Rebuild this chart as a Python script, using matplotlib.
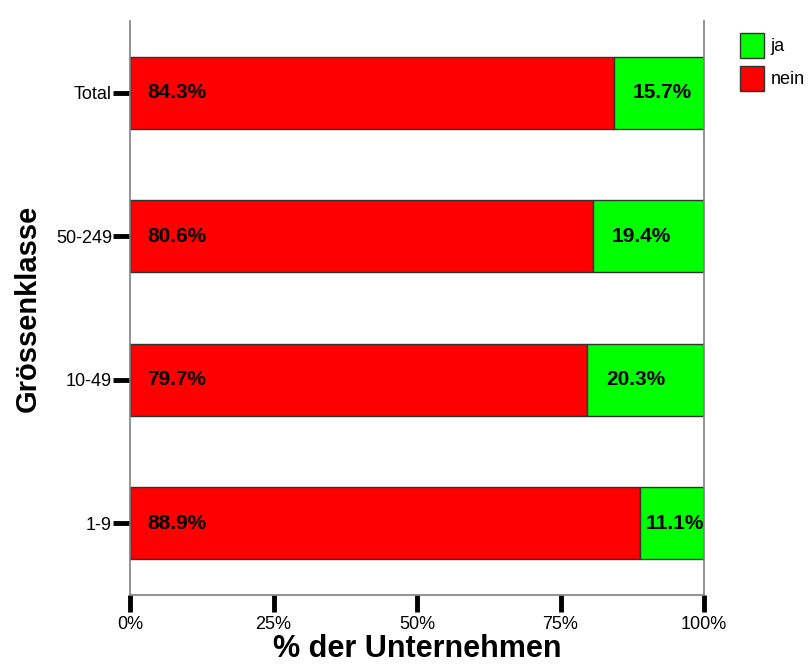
import matplotlib
matplotlib.use('Agg')
import matplotlib.pyplot as plt
import numpy as np

plt.rcParams['font.family'] = ['Liberation Sans', 'DejaVu Sans']

categories = ['1-9', '10-49', '50-249', 'Total']
nein = [88.9, 79.7, 80.6, 84.3]
ja = [11.1, 20.3, 19.4, 15.7]
xticks = [0, 25, 50, 75, 100]
xtick_labels = ['0%', '25%', '50%', '75%', '100%']

red = '#ff0000'
green = '#00ff00'
edge = '#333333'

fig = plt.figure(figsize=(8.09, 6.67), dpi=100)
ax = fig.add_axes([130 / 809, 72 / 667, 574 / 809, 574 / 667])

y = np.arange(len(categories))
ax.barh(y, nein, height=0.5, color=red, edgecolor=edge, linewidth=1,
        label='nein')
ax.barh(y, ja, left=nein, height=0.5, color=green, edgecolor=edge,
        linewidth=1, label='ja')

for i in range(len(categories)):
    ax.text(3, y[i], '%.1f%%' % nein[i], ha='left', va='center',
            fontsize=15, fontweight='bold')
    if ja[i] < 15:
        ax.text(100, y[i], '%.1f%%' % ja[i], ha='right', va='center',
                fontsize=15, fontweight='bold')
    else:
        ax.text(nein[i] + 3.3, y[i], '%.1f%%' % ja[i], ha='left',
                va='center', fontsize=15, fontweight='bold')

ax.set_xlim(0, 100)
ax.set_ylim(-0.5, 3.5)
ax.set_xticks(xticks)
ax.set_xticklabels(xtick_labels, fontsize=13)
ax.set_yticks(y)
ax.set_yticklabels(categories, fontsize=13)
ax.tick_params(axis='both', length=12, width=3.5, color='black')
ax.tick_params(axis='y', pad=1)
ax.tick_params(axis='x', pad=3)

for side in ['left', 'bottom', 'right']:
    ax.spines[side].set_color('#808080')
    ax.spines[side].set_linewidth(1.2)
ax.spines['top'].set_visible(False)

ax.set_xlabel('% der Unternehmen', fontsize=22, fontweight='bold',
              labelpad=1)
ax.set_ylabel('Grössenklasse', fontsize=21, fontweight='bold',
              labelpad=10)

handles, labels = ax.get_legend_handles_labels()
fig.legend(handles[::-1], labels[::-1], loc='upper left',
           bbox_to_anchor=(740 / 809, 1 - 33 / 667), frameon=False,
           fontsize=13, handlelength=1.35, handleheight=1.75,
           handletextpad=0.35, labelspacing=0.45, borderaxespad=0,
           borderpad=0)

fig.savefig('out.png', dpi=100, facecolor='white')
